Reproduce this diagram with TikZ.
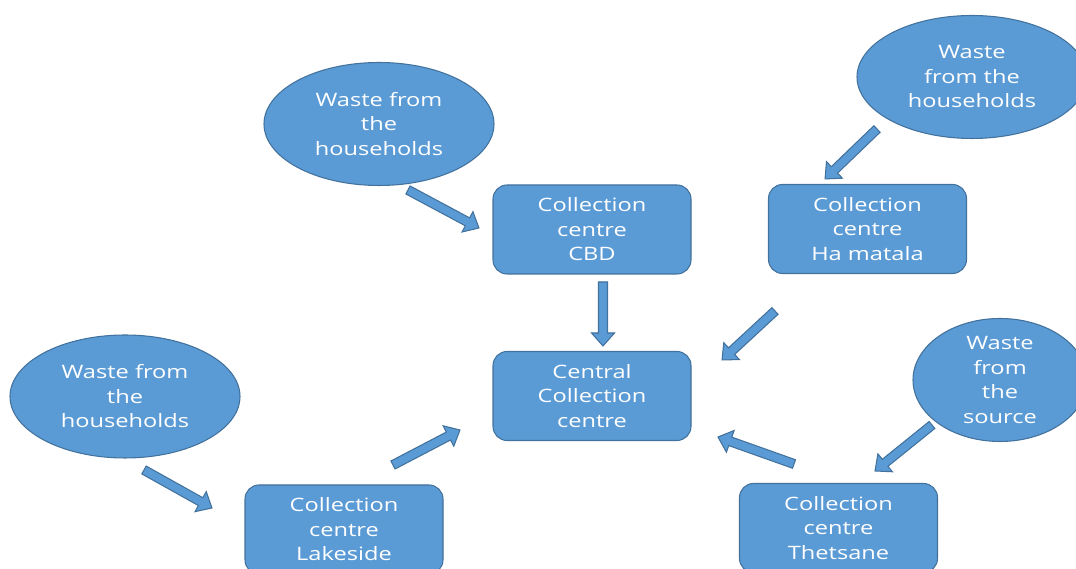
\documentclass[tikz,border=0pt]{standalone}
\usepackage{fontspec}
\setmainfont{Open Sans}[FakeStretch=1.28]
\usepackage{tikz}
\usetikzlibrary{calc,shapes.geometric}
\definecolor{Blue}{HTML}{5B9BD5}
\definecolor{BlueLine}{HTML}{41719C}
\tikzset{
  flowbox/.style={rectangle,draw=BlueLine,fill=Blue,semithick,rounded corners=8pt,minimum width=3.96cm,minimum height=1.78cm,align=center,text=white},
  flowblob/.style={ellipse,draw=BlueLine,fill=Blue,semithick,inner sep=0pt,minimum width=4.6cm,minimum height=2.46cm,align=center,text=white},
  fatArrow/.style={draw=BlueLine,fill=Blue,semithick}
}
% block arrow from coordinate #1 to coordinate #2
\newcommand{\fatarrow}[2]{%
  \path let \p1=($(#2)-(#1)$) in \pgfextra{%
    \pgfmathparse{atan2(\y1,\x1)}\xdef\faAngle{\pgfmathresult}%
    \pgfmathparse{veclen(\x1,\y1)}\xdef\faLength{\pgfmathresult}};
  \filldraw[fatArrow,shift={(#1)},rotate=\faAngle]
    (0cm,-.09cm) -- (\faLength pt-.26cm,-.09cm) -- (\faLength pt-.26cm,-.23cm)
    -- (\faLength pt,0cm) -- (\faLength pt-.26cm,.23cm) -- (\faLength pt-.26cm,.09cm)
    -- (0cm,.09cm) -- cycle;
}

\begin{document}
\begin{tikzpicture}[x=1cm,y=1cm,font=\fontsize{10.5}{13.95}\selectfont]
  \clip (0,0) rectangle (21.52,11.38);
  % sources of waste
  \node[flowblob] (hhTop) at (7.58,8.90) {Waste from\\the\\households};
  \node[flowblob] (hhRight) at (19.44,9.84) {Waste\\from the\\households};
  \node[flowblob] (hhLeft) at (2.50,3.45) {Waste from\\the\\households};
  \node[flowblob,minimum width=3.48cm] (source) at (20.00,3.78) {Waste\\from\\the\\source};
  % collection centres
  \node[flowbox] (cbd) at (11.84,6.79) {Collection\\centre\\CBD};
  \node[flowbox] (matala) at (17.35,6.80) {Collection\\centre\\Ha matala};
  \node[flowbox] (central) at (11.84,3.46) {Central\\Collection\\centre};
  \node[flowbox] (lakeside) at (6.88,0.79) {Collection\\centre\\Lakeside};
  \node[flowbox] (thetsane) at (16.77,0.82) {Collection\\centre\\Thetsane};

  % arrow ends
  \coordinate (hhTopOut) at (8.16,7.58);   \coordinate (cbdIn) at (9.58,6.82);
  \coordinate (cbdOut) at (12.06,5.74);    \coordinate (centralTop) at (12.06,4.46);
  \coordinate (hhRightOut) at (17.54,8.80); \coordinate (matalaIn) at (16.50,7.80);
  \coordinate (matalaOut) at (15.50,5.16); \coordinate (centralRight) at (14.44,4.18);
  \coordinate (thetsaneOut) at (15.88,2.10); \coordinate (centralLow) at (14.36,2.64);
  \coordinate (sourceOut) at (18.64,2.88); \coordinate (thetsaneIn) at (17.50,1.96);
  \coordinate (hhLeftOut) at (2.88,1.98);  \coordinate (lakesideIn) at (4.24,1.22);
  \coordinate (lakesideOut) at (7.86,2.08); \coordinate (centralLeft) at (9.20,2.78);

  \foreach \from/\to in {hhTopOut/cbdIn,cbdOut/centralTop,hhRightOut/matalaIn,matalaOut/centralRight,
    thetsaneOut/centralLow,sourceOut/thetsaneIn,hhLeftOut/lakesideIn,lakesideOut/centralLeft}{
    \fatarrow{\from}{\to}
  }
\end{tikzpicture}
\end{document}
